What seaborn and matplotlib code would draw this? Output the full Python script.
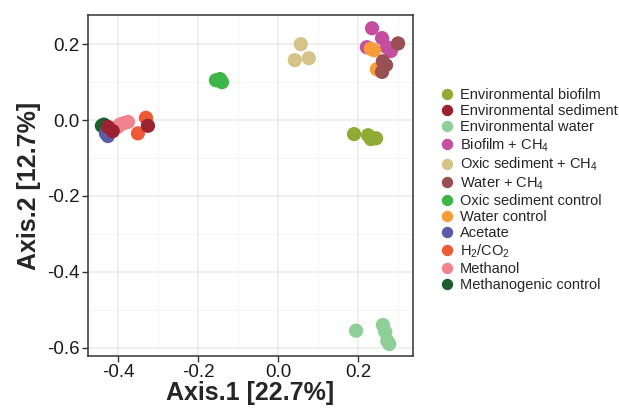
import seaborn as sns
import matplotlib.pyplot as plt
import pandas as pd

# Ordination coordinates per sample group
groups = [
    "Environmental biofilm", "Environmental sediment", "Environmental water",
    "Biofilm + CH$_4$", "Oxic sediment + CH$_4$", "Water + CH$_4$",
    "Oxic sediment control", "Water control", "Acetate", "H$_2$/CO$_2$",
    "Methanol", "Methanogenic control",
]
colors = [
    "#8FAA35", "#9B2230", "#8DCF97", "#C54E9F", "#D5C387", "#985052",
    "#3DB548", "#F89B3A", "#5A5EA8", "#EE5A36", "#F0838B", "#1C5E2E",
]

methanogenic_x = [-0.44, -0.435, -0.428]
methanogenic_y = [-0.015, -0.012, -0.02]
acetate_x = [-0.425, -0.43]
acetate_y = [-0.042, -0.035]
h2co2_x = [-0.33, -0.35]
h2co2_y = [0.006, -0.035]
methanol_x = [-0.395, -0.385, -0.375, -0.4]
methanol_y = [-0.012, -0.008, -0.005, -0.018]
env_sediment_x = [-0.425, -0.413, -0.325]
env_sediment_y = [-0.018, -0.029, -0.015]
env_biofilm_x = [0.19, 0.225, 0.232, 0.245]
env_biofilm_y = [-0.037, -0.04, -0.05, -0.048]
env_water_x = [0.195, 0.262, 0.268, 0.273, 0.278]
env_water_y = [-0.555, -0.54, -0.558, -0.582, -0.59]
oxic_ch4_x = [0.057, 0.042, 0.077]
oxic_ch4_y = [0.2, 0.158, 0.163]
oxic_control_x = [-0.155, -0.145, -0.14]
oxic_control_y = [0.105, 0.108, 0.1]
biofilm_ch4_x = [0.235, 0.26, 0.222, 0.272, 0.282]
biofilm_ch4_y = [0.242, 0.216, 0.192, 0.192, 0.182]
water_control_x = [0.232, 0.24, 0.247]
water_control_y = [0.188, 0.184, 0.134]
water_ch4_x = [0.3, 0.262, 0.27, 0.26]
water_ch4_y = [0.202, 0.155, 0.145, 0.127]

# draw order (later rows on top)
series = [
    ("Methanogenic control", methanogenic_x, methanogenic_y),
    ("Acetate", acetate_x, acetate_y),
    ("H$_2$/CO$_2$", h2co2_x, h2co2_y),
    ("Methanol", methanol_x, methanol_y),
    ("Environmental sediment", env_sediment_x, env_sediment_y),
    ("Environmental biofilm", env_biofilm_x, env_biofilm_y),
    ("Environmental water", env_water_x, env_water_y),
    ("Oxic sediment + CH$_4$", oxic_ch4_x, oxic_ch4_y),
    ("Oxic sediment control", oxic_control_x, oxic_control_y),
    ("Biofilm + CH$_4$", biofilm_ch4_x, biofilm_ch4_y),
    ("Water control", water_control_x, water_control_y),
    ("Water + CH$_4$", water_ch4_x, water_ch4_y),
]

rows = []
for name, xs, ys in series:
    for x, y in zip(xs, ys):
        rows.append({"group": name, "Axis.1": x, "Axis.2": y})
df = pd.DataFrame(rows)

sns.set_style("whitegrid")
plt.rcParams["font.family"] = ["Liberation Sans", "DejaVu Sans"]
plt.rcParams["mathtext.fontset"] = "custom"
plt.rcParams["mathtext.rm"] = "Liberation Sans"
plt.rcParams["mathtext.it"] = "Liberation Sans:italic"

fig = plt.figure(figsize=(6.19, 4.16), dpi=100)
ax = fig.add_axes([0.142, 0.144, 0.525, 0.82])

sns.scatterplot(
    data=df, x="Axis.1", y="Axis.2", hue="group", hue_order=groups,
    palette=dict(zip(groups, colors)), s=105, linewidth=0, alpha=1, ax=ax,
)

ax.set_xlim(-0.475, 0.337)
ax.set_ylim(-0.622, 0.277)
ax.set_xticks([-0.4, -0.2, 0.0, 0.2])
ax.set_yticks([-0.6, -0.4, -0.2, 0.0, 0.2])
ax.set_xticks([-0.3, -0.1, 0.1, 0.3], minor=True)
ax.set_yticks([-0.5, -0.3, -0.1, 0.1], minor=True)
ax.xaxis.set_major_formatter(plt.FormatStrFormatter("%.1f"))
ax.yaxis.set_major_formatter(plt.FormatStrFormatter("%.1f"))
ax.grid(which="major", color="#EBEBEB", linewidth=1.1)
ax.grid(which="minor", color="#F2F2F2", linewidth=0.6)
ax.set_axisbelow(True)
for sp in ax.spines.values():
    sp.set_color("#333333")
    sp.set_linewidth(1.1)
ax.tick_params(which="major", direction="out", length=4, width=1, color="#333333",
               labelsize=13.5, labelcolor="#1a1a1a", pad=2, bottom=True, left=True)
ax.tick_params(which="minor", length=0)

ax.set_xlabel("Axis.1 [22.7%]", fontsize=18, fontweight="bold", labelpad=0)
ax.set_ylabel("Axis.2 [12.7%]", fontsize=18, fontweight="bold", labelpad=4)

leg = ax.legend(loc="center left", bbox_to_anchor=(1.065, 0.487), frameon=False,
                fontsize=10.5, handlelength=1.0, handletextpad=0.35,
                labelspacing=0.15, markerscale=0.8, borderaxespad=0)

fig.savefig("out.png", dpi=100)
plt.close(fig)
